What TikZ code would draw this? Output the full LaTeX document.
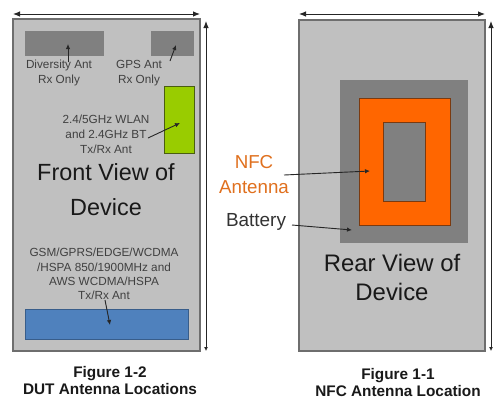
\documentclass[tikz,border=0pt]{standalone}
\usepackage{fontspec}
\setmainfont{Liberation Sans}
\usetikzlibrary{arrows.meta,calc}
\definecolor{devfill}{HTML}{C0C0C0}
\definecolor{devline}{HTML}{6E6E6E}
\definecolor{darkg}{HTML}{808080}
\definecolor{greenant}{HTML}{99CC00}
\definecolor{greenline}{HTML}{4A5E10}
\definecolor{blueant}{HTML}{4F81BD}
\definecolor{blueline}{HTML}{385D8A}
\definecolor{orangeant}{HTML}{FF6600}
\definecolor{orangeline}{HTML}{7A3A10}
\definecolor{nfctxt}{HTML}{E0701E}
\definecolor{txtg}{HTML}{404040}
\begin{document}
\begin{tikzpicture}[x=1bp,y=-1bp,
  box/.style={inner sep=0pt, outer sep=0pt, anchor=north west},
  small/.style={font=\fontsize{11.8}{15}\selectfont, text=txtg, align=center, inner sep=0pt},
  big/.style={font=\fontsize{23.5}{35}\selectfont, text=black!90, align=center, inner sep=0pt},
  mid/.style={font=\fontsize{18.8}{25}\selectfont, align=center, inner sep=0pt},
  capt/.style={font=\bfseries\fontsize{15.4}{17}\selectfont, text=black!90, align=center, inner sep=0pt},
  dimarr/.style={draw=black!85, line width=0.9bp, {Latex[length=7bp,width=5.5bp]}-{Latex[length=7bp,width=5.5bp]}},
  vdimarr/.style={draw=black!85, line width=0.9bp, {Latex[length=7bp,width=5.5bp]}-{Latex[length=4bp,width=4bp]}},
  ptr/.style={draw=black!85, line width=0.9bp, -{Latex[length=5bp,width=4.5bp]}}]
\useasboundingbox (0,0) rectangle (504,418);
\fill[white] (0,0) rectangle (504,418);

% ---------- Front view ----------
\node[box, draw=devline, line width=1.3bp, fill=devfill, minimum width=187bp, minimum height=332bp] (front) at (13,19) {};
\coordinate (ftl) at (13,14);
\coordinate (ftr) at (200,14);
\draw[dimarr] (ftl) -- (ftr);
\coordinate (fvt) at (206,21);
\coordinate (fvb) at (206,351);
\draw[vdimarr] (fvt) -- (fvb);

\node[box, fill=darkg, minimum width=79bp, minimum height=25bp] (div) at (25,31) {};
\node[box, fill=darkg, minimum width=43bp, minimum height=25bp] (gps) at (151,31) {};
\node[box, draw=greenline, line width=0.9bp, fill=greenant, minimum width=30bp, minimum height=67bp] (wlan) at (164,86) {};
\node[box, draw=blueline, line width=0.9bp, fill=blueant, minimum width=163bp, minimum height=30bp] (cell) at (25,309) {};

\node[small] (divtxt) at (59,73) {Diversity Ant\\Rx Only};
\node[small] (gpstxt) at (139,73) {GPS Ant\\Rx Only};
\node[small] (wlantxt) at (106,134) {2.4/5GHz WLAN\\and 2.4GHz BT\\Tx/Rx Ant};
\node[small, font=\fontsize{11.8}{14.2}\selectfont] (celltxt) at (104,274) {GSM/GPRS/EDGE/WCDMA\\/HSPA 850/1900MHz and\\AWS WCDMA/HSPA\\Tx/Rx Ant};
\node[big] (fronttxt) at (106,190) {Front View of\\Device};
\node[capt] (capl) at (110,380.5) {Figure 1-2\\DUT Antenna Locations};

\coordinate (divend) at (68,44);
\coordinate (divstart) at (68,62);
\draw[ptr] (divstart) -- (divend);
\coordinate (gpsstart) at (170,61);
\coordinate (gpsend) at (176,45);
\draw[ptr] (gpsstart) -- (gpsend);
\coordinate (wlanstart) at (148,138);
\coordinate (wlanend) at (180,123);
\draw[ptr] (wlanstart) -- (wlanend);
\coordinate (cellstart) at (105,300);
\coordinate (cellend) at (110,325);
\draw[ptr] (cellstart) -- (cellend);

% ---------- Rear view ----------
\node[box, draw=devline, line width=1.3bp, fill=devfill, minimum width=186bp, minimum height=331bp] (rear) at (299,20) {};
\coordinate (rtl) at (299,14);
\coordinate (rtr) at (485,14);
\draw[dimarr] (rtl) -- (rtr);
\coordinate (rvt) at (491,21);
\coordinate (rvb) at (491,351);
\draw[vdimarr] (rvt) -- (rvb);

\node[box, fill=darkg, minimum width=128bp, minimum height=163bp] (batt) at (340,80) {};
\node[box, draw=orangeline, line width=0.9bp, fill=orangeant, minimum width=91bp, minimum height=127bp] (nfc) at (359,98) {};
\node[box, draw=orangeline, line width=0.9bp, fill=darkg, minimum width=42bp, minimum height=79bp] (nfcin) at (383,122) {};

\node[mid, text=nfctxt] (nfctxt) at (254,174.5) {NFC\\Antenna};
\node[mid, text=black!80, font=\fontsize{19}{20}\selectfont] (batttxt) at (256,222) {Battery};
\node[big, font=\fontsize{24}{29}\selectfont] (reartxt) at (392,277.5) {Rear View of\\Device};
\node[capt] (capr) at (398,382.5) {Figure 1-1\\NFC Antenna Location};

\coordinate (nfcstart) at (284,175);
\coordinate (nfcend) at (370,171);
\draw[ptr] (nfcstart) -- (nfcend);
\coordinate (battstart) at (292,225);
\coordinate (battend) at (352,230);
\draw[ptr] (battstart) -- (battend);
\end{tikzpicture}
\end{document}
